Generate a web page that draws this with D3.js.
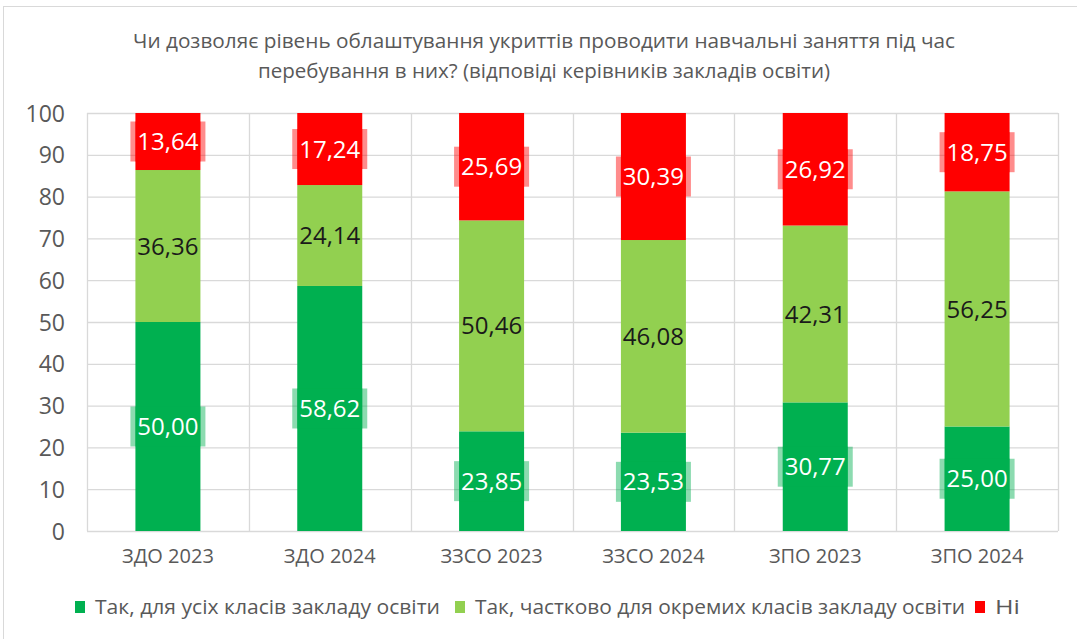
<!DOCTYPE html>
<html><head><meta charset="utf-8">
<script src="https://cdn.jsdelivr.net/npm/d3@7"></script>
<style>body{margin:0;background:#fff;} text{font-family:"Open Sans","Noto Sans",sans-serif;}</style>
</head><body><svg id="c" width="1077" height="639"></svg>
<script>
const categories = ["ЗДО 2023","ЗДО 2024","ЗЗСО 2023","ЗЗСО 2024","ЗПО 2023","ЗПО 2024"];
const seriesNames = ["Так, для усіх класів закладу освіти","Так, частково для окремих класів закладу освіти","Ні"];
const allClasses = [50.00, 58.62, 23.85, 23.53, 30.77, 25.00];
const someClasses = [36.36, 24.14, 50.46, 46.08, 42.31, 56.25];
const no = [13.64, 17.24, 25.69, 30.39, 26.92, 18.75];
const yTicks = [0,10,20,30,40,50,60,70,80,90,100];
const colors = ["#00B050","#92D050","#FF0000"];
const labelColors = ["#ffffff","#1a1a1a","#ffffff"];
const boxColors = ["rgba(0,176,80,0.45)", null, "rgba(255,0,0,0.45)"];
const title = ["Чи дозволяє рівень облаштування укриттів проводити навчальні заняття під час","перебування в них? (відповіді керівників закладів освіти)"];

const svg = d3.select("#c");
svg.append("rect").attr("x",3.5).attr("y",6.5).attr("width",1080).attr("height",640).attr("fill","#fff").attr("stroke","#d9d9d9");

const m = {l:87, r:1058, t:113, b:531};
const x = d3.scaleBand().domain(categories).range([m.l,m.r]).paddingInner(0).paddingOuter(0);
const y = d3.scaleLinear().domain([0,100]).range([m.b,m.t]);

// title
const titleW = [822, 572];
svg.append("g").selectAll("text").data(title).join("text")
  .attr("x",544).attr("y",(d,i)=>48+i*30).attr("text-anchor","middle")
  .attr("font-size",20.5).attr("fill","#595959")
  .attr("textLength",(d,i)=>titleW[i]).attr("lengthAdjust","spacingAndGlyphs").text(d=>d);

// gridlines
const g = svg.append("g");
g.selectAll("line.h").data(yTicks).join("line")
  .attr("x1",m.l).attr("x2",m.r).attr("y1",d=>y(d)+0.5).attr("y2",d=>y(d)+0.5)
  .attr("stroke","#d9d9d9").attr("stroke-width",1.3);
const vb = categories.map(c=>x(c)).concat([m.r]);
g.selectAll("line.v").data(vb).join("line")
  .attr("x1",d=>Math.round(d)+0.5).attr("x2",d=>Math.round(d)+0.5).attr("y1",m.t).attr("y2",m.b)
  .attr("stroke","#d9d9d9").attr("stroke-width",1.3);

// y axis labels
const yAxis = d3.axisLeft(y).tickValues(yTicks).tickSize(0).tickPadding(0);
const ya = svg.append("g").attr("transform",`translate(${m.l-22},0)`).call(yAxis);
ya.select(".domain").remove();
ya.selectAll("text").attr("font-size",23).attr("fill","#595959").attr("font-family","'Open Sans',sans-serif").attr("dy","0.35em");

// x axis labels
const xAxis = d3.axisBottom(x).tickSize(0).tickPadding(0);
const xa = svg.append("g").attr("transform",`translate(0,${m.b+18})`).call(xAxis);
xa.select(".domain").remove();
xa.selectAll("text").attr("font-size",20).attr("fill","#595959").attr("font-family","'Open Sans',sans-serif").attr("dy","0.71em");

// stacked bars
const rows = categories.map((c,i)=>({cat:c, s0:allClasses[i], s1:someClasses[i], s2:no[i]}));
const stack = d3.stack().keys(["s0","s1","s2"])(rows);
const bw = 65;
stack.forEach((layer,k)=>{
  const lg = svg.append("g");
  lg.selectAll("rect").data(layer).join("rect")
    .attr("x",d=>x(d.data.cat)+x.bandwidth()/2-bw/2).attr("width",bw)
    .attr("y",d=>y(d[1])).attr("height",d=>y(d[0])-y(d[1]))
    .attr("fill",colors[k]);
});
stack.forEach((layer,k)=>{
  const lg = svg.append("g");
  layer.forEach(d=>{
    const cx = x(d.data.cat)+x.bandwidth()/2, cy = (y(d[0])+y(d[1]))/2;
    const v = d[1]-d[0];
    if (boxColors[k]) {
      lg.append("rect").attr("x",cx-37.5).attr("y",cy-20).attr("width",75).attr("height",40).attr("fill",boxColors[k]);
      lg.append("rect").attr("x",cx-bw/2).attr("y",cy-20).attr("width",bw).attr("height",40).attr("fill",colors[k]).attr("opacity",0.55);
    }
    lg.append("text").attr("x",cx).attr("y",cy).attr("dy","0.36em").attr("text-anchor","middle")
      .attr("font-size",24).attr("fill",labelColors[k]).text(v.toFixed(2).replace(".",","));
  });
});

// legend
const leg = svg.append("g");
const legX = [75, 455, 975];
const legW = [345, 490, 25];
seriesNames.forEach((n,i)=>{
  leg.append("rect").attr("x",legX[i]).attr("y",601).attr("width",10).attr("height",12).attr("fill",colors[i]);
  leg.append("text").attr("x",legX[i]+20).attr("y",607).attr("dy","0.35em").attr("font-size",20.5).attr("fill","#595959")
    .attr("textLength",legW[i]).attr("lengthAdjust","spacingAndGlyphs").text(n);
});
</script></body></html>
